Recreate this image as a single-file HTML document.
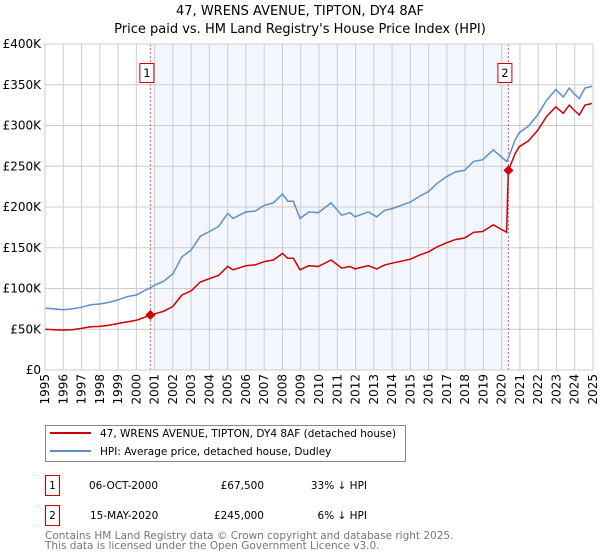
<!DOCTYPE html>
<html><head><meta charset="utf-8"><style>
body{margin:0;background:#fff;font-family:"Liberation Sans","DejaVu Sans",sans-serif;}
#wrap{position:relative;width:600px;height:560px;overflow:hidden;}
</style></head><body>
<div id="wrap">
<svg id="chart" width="600" height="560" font-family="DejaVu Sans, Liberation Sans, sans-serif">
<text x="300" y="15" text-anchor="middle" font-size="13">47, WRENS AVENUE, TIPTON, DY4 8AF</text>
<text x="300" y="33" text-anchor="middle" font-size="13">Price paid vs. HM Land Registry's House Price Index (HPI)</text>
<g id="plot"></g>
<g>
<rect x="45.5" y="425.5" width="360" height="36" fill="#fff" stroke="#888"/>
<line x1="50" y1="433" x2="91" y2="433" stroke="#cc0000" stroke-width="2"/>
<text x="100" y="437" font-size="10.5">47, WRENS AVENUE, TIPTON, DY4 8AF (detached house)</text>
<line x1="50" y1="451" x2="91" y2="451" stroke="#5b8fd0" stroke-width="2"/>
<text x="100" y="455" font-size="10.5">HPI: Average price, detached house, Dudley</text>
</g>
<g font-size="10.5">
<rect x="45.5" y="475.5" width="14" height="20" fill="#fff" stroke="#cc0000"/>
<text x="52.5" y="489" text-anchor="middle">1</text>
<text x="89" y="489">06-OCT-2000</text>
<text x="264" y="489" text-anchor="end">£67,500</text>
<text x="367" y="489" text-anchor="end">33% ↓ HPI</text>
<rect x="45.5" y="505.5" width="14" height="20" fill="#fff" stroke="#cc0000"/>
<text x="52.5" y="519" text-anchor="middle">2</text>
<text x="90" y="519">15-MAY-2020</text>
<text x="264" y="519" text-anchor="end">£245,000</text>
<text x="367" y="519" text-anchor="end">6% ↓ HPI</text>
</g>
<text x="45" y="539" font-size="10.5" fill="#777">Contains HM Land Registry data © Crown copyright and database right 2025.</text>
<text x="45" y="549" font-size="10.5" fill="#777">This data is licensed under the Open Government Licence v3.0.</text>
</svg>
</div>
<script>
const hpiYears=[1995,1995.5,1996,1996.5,1997,1997.5,1998,1998.5,1999,1999.5,2000,2000.5,2000.77,2001,2001.5,2002,2002.5,2003,2003.5,2004,2004.5,2005,2005.3,2006,2006.5,2007,2007.5,2008,2008.3,2008.6,2008.96,2009.45,2009.96,2010.66,2011.24,2011.7,2011.97,2012.7,2013.16,2013.6,2014,2015,2015.5,2016,2016.46,2016.97,2017.46,2017.97,2018.47,2018.96,2019.54,2020.27,2020.37,2020.73,2020.96,2021.46,2021.97,2022.46,2022.97,2023.37,2023.7,2023.96,2024.25,2024.56,2024.94];
const hpiValues=[76,75,74,75,77,80,81,83,86,90,92,98,101,104,109,118,139,147,164,170,176,192,186,194,195,202,205,216,207,207,186,194,193,205,190,193,188,194,188,196,198,206,213,219,229,237,243,245,256,258,270,256,260,282,291,299,313,331,344,335,346,339,333,346,348];
const priceYears=[1995,1995.5,1996,1996.5,1997,1997.5,1998,1998.5,1999,1999.5,2000,2000.5,2000.77,2001,2001.5,2002,2002.5,2003,2003.5,2004,2004.5,2005,2005.3,2006,2006.5,2007,2007.5,2008,2008.3,2008.6,2008.96,2009.45,2009.96,2010.66,2011.24,2011.7,2011.97,2012.7,2013.16,2013.6,2014,2015,2015.5,2016,2016.46,2016.97,2017.46,2017.97,2018.47,2018.96,2019.54,2020.27,2020.37,2020.73,2020.96,2021.46,2021.97,2022.46,2022.97,2023.37,2023.7,2023.96,2024.25,2024.56,2024.94];
const priceValues=[50,49.5,49,49.5,51,53,53.5,55,57,59,61,65,67.5,69,72,78,92,97,108,112,116,127,123,128,129,133,135,143,137,137,123,128,127,135,125,127,124,128,124,129,131,136,141,145,151,156,160,162,169,170,178,169,245,265,274,281,294,311,323,315,325,319,313,325,327];
const saleYears=[2000.77,2020.37];
const salePrices=[67.5,245];
const saleLabels=["1","2"];
const yTicks=[0,50,100,150,200,250,300,350,400];
const yTickLabels=["£0","£50K","£100K","£150K","£200K","£250K","£300K","£350K","£400K"];
const xTicks=[1995,1996,1997,1998,1999,2000,2001,2002,2003,2004,2005,2006,2007,2008,2009,2010,2011,2012,2013,2014,2015,2016,2017,2018,2019,2020,2021,2022,2023,2024,2025];

const NS="http://www.w3.org/2000/svg";
const L=45,R=593,T=44,B=370;
const xS=y=>L+(y-1995)/(2025-1995)*(R-L);
const yS=v=>B-v/400*(B-T);
const g=document.getElementById('plot');
function mk(tag,attrs,parent){const e=document.createElementNS(NS,tag);for(const k in attrs)e.setAttribute(k,attrs[k]);(parent||g).appendChild(e);return e;}
const bg=mk('rect',{x:L,y:T,width:R-L,height:B-T,fill:'#fff'});


const sh=mk('rect',{x:xS(saleYears[0]),y:T,width:xS(saleYears[1])-xS(saleYears[0]),height:B-T,fill:'#f3f6fd'});


xTicks.forEach((t,i)=>{
  const ln=mk('line',{x1:xS(t),x2:xS(t),y1:T,y2:B,stroke:'#cccccc','stroke-width':1});
  
  
  const x=xS(t)+4,y=374;
  const tx=mk('text',{x:x,y:y,'font-size':12,'text-anchor':'end',transform:`rotate(-90 ${x} ${y})`});
  tx.textContent=t;
  
  
});
yTicks.forEach((t,i)=>{
  const ln=mk('line',{x1:L,x2:R,y1:yS(t),y2:yS(t),stroke:'#cccccc','stroke-width':1});
  
  
  const tx=mk('text',{x:L-4,y:yS(t)+4,'font-size':12,'text-anchor':'end'});
  tx.textContent=yTickLabels[i];
  
  
});
function path(xs,vs){return xs.map((x,i)=>(i?'L':'M')+xS(x).toFixed(1)+','+yS(vs[i]).toFixed(1)).join('');}
saleYears.forEach((s,i)=>{
  const ln=mk('line',{x1:xS(s),x2:xS(s),y1:T,y2:B,stroke:'#e06060','stroke-width':1,'stroke-dasharray':'2,2'});
  
  
});
const hp=mk('path',{d:path(hpiYears,hpiValues),fill:'none',stroke:'#5b8fd0','stroke-width':1.5});


const pp=mk('path',{d:path(priceYears,priceValues),fill:'none',stroke:'#cc0000','stroke-width':1.5});


saleYears.forEach((s,i)=>{
  const x=xS(s),y=yS(salePrices[i]);
  const d=mk('path',{d:`M${x},${y-5}L${x+5},${y}L${x},${y+5}L${x-5},${y}Z`,fill:'#cc0000'});
  
  
  const r=mk('rect',{x:x-10.5,y:63.5,width:14,height:19,fill:'#fff',stroke:'#cc0000'});
  
  
  const t=mk('text',{x:x-3.5,y:77,'font-size':11.5,'text-anchor':'middle'});
  t.textContent=saleLabels[i];
  
  
});
const br=mk('rect',{x:L,y:T,width:R-L,height:B-T,fill:'none',stroke:'#cccccc'});


</script>
</body></html>
